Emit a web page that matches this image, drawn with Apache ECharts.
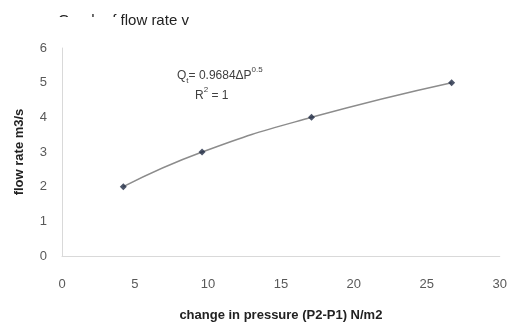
<!DOCTYPE html>
<html>
<head>
<meta charset="utf-8">
<script src="https://cdn.jsdelivr.net/npm/echarts@6/dist/echarts.min.js"></script>
<style>
  html, body { margin: 0; padding: 0; background: #fff; }
  #chart { width: 510px; height: 327px; }
</style>
</head>
<body>
<div id="chart"></div>
<script>
// readings
var pressureChange = [4.2, 9.6, 17.1, 26.7];
var flowRate = [2, 3, 4, 5];
var xTicks = [0, 5, 10, 15, 20, 25, 30];
var yTicks = [0, 1, 2, 3, 4, 5, 6];

var points = pressureChange.map(function (p, i) { return [p, flowRate[i]]; });

var chart = echarts.init(document.getElementById('chart'));
var font = 'Liberation Sans';

var option = {
    animation: false,
    textStyle: { fontFamily: font },
    grid: { left: 62, right: 10, top: 48, bottom: 65 },
    xAxis: {
        type: 'value',
        min: xTicks[0],
        max: xTicks[xTicks.length - 1],
        interval: 5,
        name: 'change in pressure (P2-P1) N/m2',
        nameLocation: 'middle',
        nameGap: 53,
        nameTextStyle: { fontSize: 13, fontWeight: 'bold', color: '#222', fontFamily: font },
        axisLine: { lineStyle: { color: '#d9d9d9' } },
        axisTick: { show: false },
        splitLine: { show: false },
        axisLabel: { color: '#595959', fontSize: 13, margin: 22 }
    },
    yAxis: {
        type: 'value',
        min: yTicks[0],
        max: yTicks[yTicks.length - 1],
        interval: 1,
        name: 'flow rate m3/s',
        nameLocation: 'middle',
        nameGap: 36,
        nameTextStyle: { fontSize: 13, fontWeight: 'bold', color: '#222', fontFamily: font },
        axisLine: { show: true, lineStyle: { color: '#d9d9d9' } },
        axisTick: { show: false },
        splitLine: { show: false },
        axisLabel: { color: '#595959', fontSize: 13, margin: 15 }
    },
    series: [
        {
            name: 'trend',
            type: 'line',
            data: points,
            smooth: true,
            symbol: 'none',
            lineStyle: { color: '#8c8c8c', width: 1.5 },
            z: 2
        },
        {
            name: 'flow',
            type: 'scatter',
            data: points,
            symbol: 'diamond',
            symbolSize: 7,
            itemStyle: { color: '#1f2a44' },
            z: 3
        }
    ],
    graphic: [
        {
            type: 'text',
            left: 58,
            top: 13,
            style: { text: 'Graph of flow rate v', fontSize: 15, fontFamily: font, fill: '#222' }
        },
        {
            type: 'rect',
            left: 55,
            top: 17,
            shape: { width: 66, height: 14 },
            style: { fill: '#fff' }
        },
        {
            type: 'text',
            left: 177,
            top: 66,
            style: {
                text: '{a|Q}{sub|t}{a|= 0.9684ΔP}{sup|0.5}',
                fill: '#404040',
                rich: {
                    a: { fontSize: 12, fontFamily: font, fill: '#404040', lineHeight: 16, verticalAlign: 'bottom' },
                    sub: { fontSize: 8, fontFamily: font, fill: '#404040', lineHeight: 16, verticalAlign: 'bottom', padding: [0, 0, -3, 0] },
                    sup: { fontSize: 8, fontFamily: font, fill: '#404040', lineHeight: 16, verticalAlign: 'top' }
                }
            }
        },
        {
            type: 'text',
            left: 195,
            top: 86,
            style: {
                text: '{a|R}{sup|2}{a| = 1}',
                rich: {
                    a: { fontSize: 12, fontFamily: font, fill: '#404040', lineHeight: 16, verticalAlign: 'bottom' },
                    sup: { fontSize: 8, fontFamily: font, fill: '#404040', lineHeight: 16, verticalAlign: 'top' }
                }
            }
        }
    ]
};

chart.setOption(option);
</script>
</body>
</html>
